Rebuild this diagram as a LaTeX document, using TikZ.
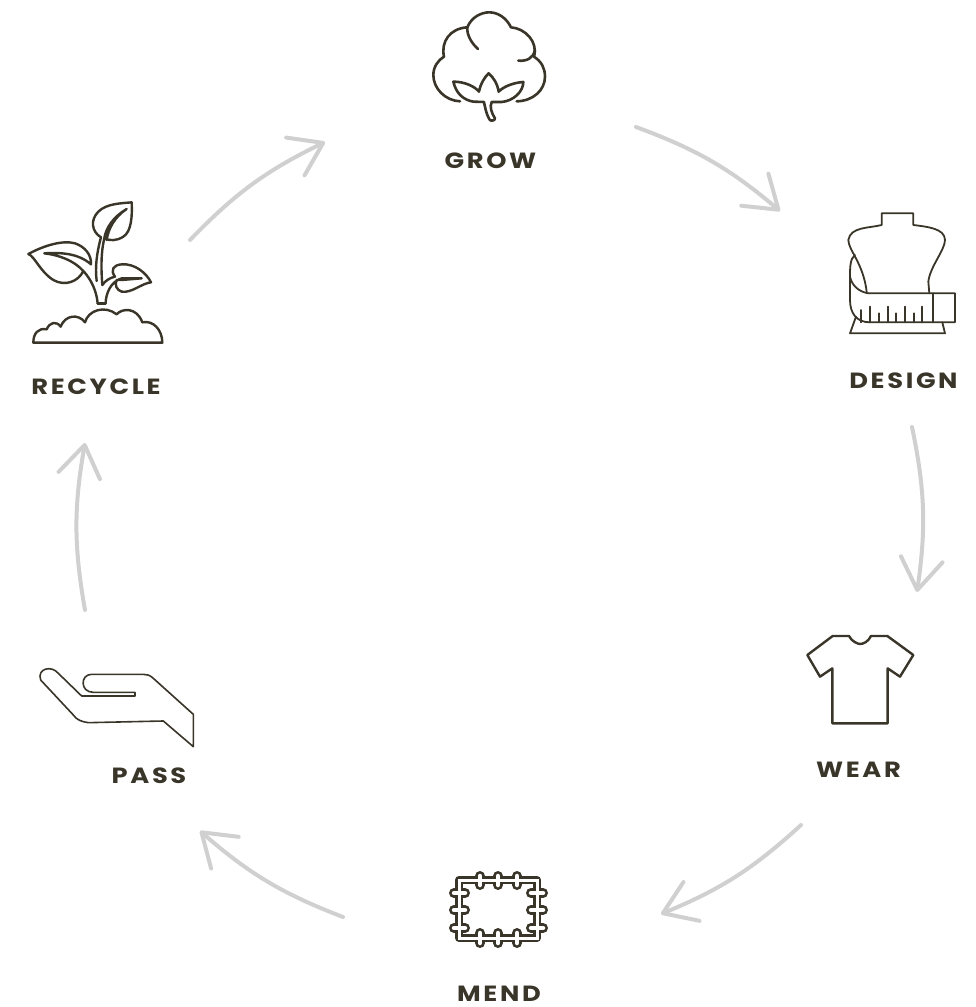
\documentclass[tikz,border=0pt]{standalone}
\usepackage{fontspec}
\usepackage{xcolor}
\usetikzlibrary{arrows.meta}
\newfontfamily\stagefont[LetterSpace=12,FakeStretch=1.17]{Poppins}
\definecolor{inkbrown}{HTML}{3A3529}
\definecolor{loopgrey}{HTML}{D0D0D0}

\begin{document}
\begin{tikzpicture}[
  x=1pt, y=-1pt,
  >={Straight Barb[length=31pt,width=42pt,line width=4pt,round]},
  stage/.style={text=inkbrown, inner sep=0pt,
    font=\stagefont\bfseries\fontsize{22}{26}\selectfont},
  loopline/.style={draw=loopgrey, line width=4pt, line cap=round},
  icon/.style={draw=inkbrown, line width=#1, line join=round, line cap=round},
  icon/.default=2.5pt,
  zoomed/.style={x=0.3333pt, y=-0.3333pt},
  stitch/.style={line width=#1, line cap=round},
]
\useasboundingbox (0,0) rectangle (976,1007);

\node[stage] (grow)    at (490.5,160.5) {GROW};
\node[stage] (design)  at (903.5,380.5) {DESIGN};
\node[stage] (wear)    at (858.5,769.5) {WEAR};
\node[stage] (mend)    at (499,993.5)   {MEND};
\node[stage] (pass)    at (149,775.5)   {PASS};
\node[stage] (recycle) at (96,386.5)    {RECYCLE};

% ends of the arrows
\coordinate (g1) at (636,127);
\coordinate (g2) at (780,211);
\coordinate (d1) at (912,427);
\coordinate (d2) at (917,592);
\coordinate (w1) at (801,825);
\coordinate (w2) at (661,914);
\coordinate (m1) at (343,917);
\coordinate (m2) at (200,831);
\coordinate (p1) at (85,610);
\coordinate (p2) at (85,443);
\coordinate (r1) at (190,240);
\coordinate (r2) at (325,142);

\draw[loopline,->] (g1) to[bend left=10] (g2);
\draw[loopline,->] (d1) to[bend left=10] (d2);
\draw[loopline,->] (w1) to[bend left=10] (w2);
\draw[loopline,->] (m1) to[bend left=10] (m2);
\draw[loopline,->] (p1) to[bend left=10] (p2);
\draw[loopline,->] (r1) to[bend left=10] (r2);

% cotton
\begin{scope}[shift={(410,0)}, zoomed]
\draw[icon=2.6pt] (150,304) .. controls (105,302) and (70,265) .. (70,225)
  .. controls (70,200) and (85,180) .. (102,170)
  .. controls (92,125) and (120,85) .. (172,82)
  .. controls (185,50) and (215,37) .. (238,37)
  .. controls (265,37) and (290,55) .. (303,82)
  .. controls (345,85) and (385,125) .. (372,170)
  .. controls (395,185) and (405,205) .. (405,230)
  .. controls (405,270) and (370,303) .. (320,304);
\draw[icon=2.6pt] (172,82) .. controls (170,105) and (185,130) .. (204,147);
\draw[icon=2.6pt] (325,182) .. controls (350,184) and (370,175) .. (375,150);
\draw[icon=2.6pt] (130,245) .. controls (165,245) and (195,260) .. (207,275)
  .. controls (212,250) and (225,230) .. (236,220)
  .. controls (250,232) and (262,250) .. (266,275)
  .. controls (280,260) and (310,248) .. (340,246)
  .. controls (340,275) and (310,303) .. (275,306) -- (245,306)
  .. controls (238,320) and (245,340) .. (255,355)
  .. controls (255,362) and (242,365) .. (238,358)
  .. controls (228,340) and (225,320) .. (222,306) -- (190,305)
  .. controls (160,300) and (138,280) .. (130,245) -- cycle;
\end{scope}

% dress form with tape
\begin{scope}[shift={(830,200)}, zoomed]
\draw[icon=1.8pt] (110,275) .. controls (100,190) and (55,150) .. (55,120)
  .. controls (62,80) and (115,85) .. (155,75) -- (155,40) -- (250,40) -- (250,75)
  .. controls (290,80) and (345,85) .. (345,120)
  .. controls (345,150) and (300,200) .. (295,245) -- (298,280);
\draw[icon=1.8pt] (115,280) -- (375,280) -- (375,367) -- (120,367)
  .. controls (80,367) and (60,340) .. (60,300) -- (60,215);
\draw[icon=1.8pt] (75,165) .. controls (60,175) and (60,205) .. (60,230)
  .. controls (65,255) and (85,275) .. (115,280);
\draw[icon=1.8pt] (308,280) -- (308,367);
\foreach \tx/\ty in {92/330,120/320,147/340,173/320,199/340,225/320,251/340,277/320}
  \draw[icon=1.8pt] (\tx,\ty) -- (\tx,367);
\draw[icon=1.8pt] (78,350) -- (60,400) -- (345,400) -- (337,367);
\end{scope}

% t-shirt
\begin{scope}[shift={(795,625)}, zoomed]
\draw[icon=2.4pt] (37,90) -- (113,33) -- (162,33)
  .. controls (170,50) and (190,57) .. (195,57)
  .. controls (205,57) and (220,50) .. (228,33)
  -- (277,33) -- (355,90) -- (315,155) -- (278,130) -- (278,295)
  -- (112,295) -- (112,130) -- (75,155) -- cycle;
\end{scope}

% patch
\draw[icon=8pt] (459,880) rectangle (537,938);
\foreach \sx in {480,498,517} {
  \draw[inkbrown, stitch=10pt] (\sx,876) -- (\sx,885);
  \draw[inkbrown, stitch=10pt] (\sx,933) -- (\sx,943);
}
\foreach \sy in {893,910,928} {
  \draw[inkbrown, stitch=10pt] (454,\sy) -- (465,\sy);
  \draw[inkbrown, stitch=10pt] (531,\sy) -- (543,\sy);
}
\foreach \sx in {480,498,517} {
  \draw[white, stitch=4.5pt] (\sx,876) -- (\sx,885);
  \draw[white, stitch=4.5pt] (\sx,933) -- (\sx,943);
}
\foreach \sy in {893,910,928} {
  \draw[white, stitch=4.5pt] (454,\sy) -- (465,\sy);
  \draw[white, stitch=4.5pt] (531,\sy) -- (543,\sy);
}
\draw[white, line width=3pt] (459,880) rectangle (537,938);

% hand
\begin{scope}[shift={(30,655)}, zoomed]
\draw[icon=1.6pt] (490,178) -- (370,70) .. controls (360,60) and (350,58) .. (340,58)
  -- (185,58) .. controls (150,58) and (150,112) .. (190,112) -- (315,112) -- (315,123)
  -- (155,123) -- (85,55) .. controls (65,30) and (20,40) .. (32,75) -- (130,180)
  .. controls (140,195) and (155,200) .. (175,203) -- (400,198) -- (490,275) -- cycle;
\end{scope}

% sprout
\begin{scope}[shift={(15,195)}, zoomed]
\draw[icon=2.4pt] (55,443) -- (442,443) .. controls (442,405) and (415,375) .. (382,382)
  .. controls (365,335) and (320,340) .. (305,358)
  .. controls (270,330) and (220,345) .. (210,382)
  .. controls (190,355) and (150,360) .. (137,395)
  .. controls (125,378) and (105,380) .. (95,403)
  .. controls (70,398) and (55,415) .. (55,443) -- cycle;
\draw[icon=2.4pt] (248,325) -- (272,325);
\draw[icon=2.4pt] (248,325) .. controls (245,290) and (230,255) .. (205,228)
  .. controls (175,195) and (130,180) .. (88,175)
  .. controls (140,172) and (190,175) .. (228,208)
  .. controls (230,180) and (210,155) .. (180,145)
  .. controls (145,135) and (90,150) .. (40,177)
  .. controls (60,185) and (75,230) .. (115,255)
  .. controls (150,275) and (190,260) .. (205,228);
\draw[icon=2.4pt] (245,258) .. controls (240,215) and (245,175) .. (258,127)
  .. controls (230,110) and (225,75) .. (250,50)
  .. controls (275,25) and (320,25) .. (350,22)
  .. controls (352,60) and (350,110) .. (325,125)
  .. controls (305,138) and (285,138) .. (268,130);
\draw[icon=2.4pt] (262,270) .. controls (258,220) and (258,170) .. (268,130)
  .. controls (272,100) and (295,65) .. (335,42)
  .. controls (300,65) and (280,100) .. (275,135);
\draw[icon=2.4pt] (272,325) .. controls (272,300) and (285,260) .. (320,250) -- (380,250)
  -- (320,255) -- (305,255)
  .. controls (298,270) and (305,285) .. (320,290)
  .. controls (350,295) and (380,265) .. (408,262)
  .. controls (395,235) and (360,205) .. (320,208)
  .. controls (295,210) and (285,225) .. (300,245)
  .. controls (285,248) and (270,258) .. (262,270);
\end{scope}
\end{tikzpicture}
\end{document}
